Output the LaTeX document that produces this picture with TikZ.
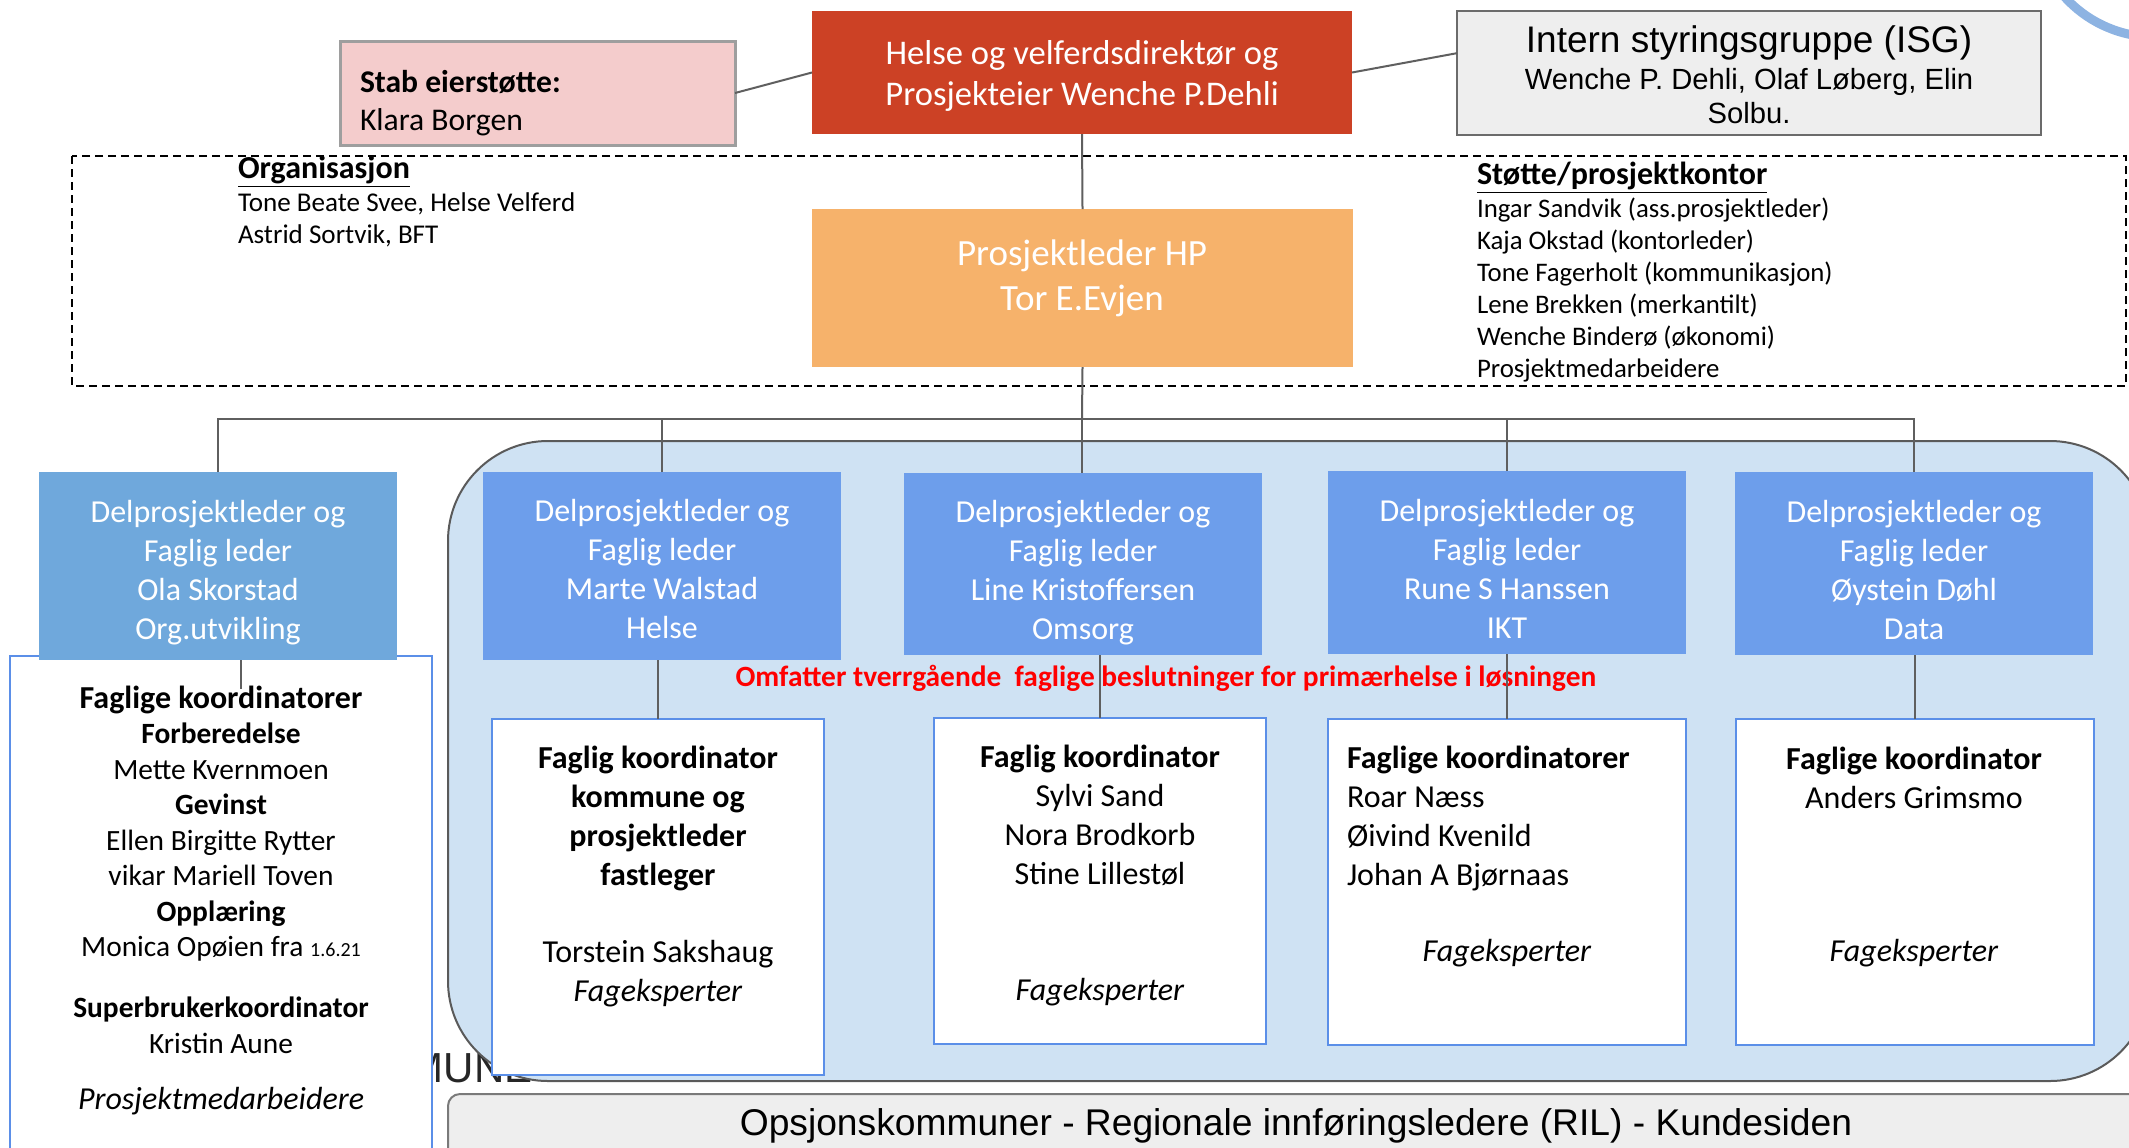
\documentclass[tikz,border=0pt]{standalone}
\usepackage{fontspec}
\setmainfont{Carlito}
\newfontfamily\arialf{Liberation Sans}
\usetikzlibrary{calc}
\definecolor{redbox}{HTML}{CC4125}
\definecolor{orangebox}{HTML}{F6B26B}
\definecolor{pinkbox}{HTML}{F4CCCC}
\definecolor{pinkborder}{HTML}{9E9E9E}
\definecolor{isgfill}{HTML}{EEEEEE}
\definecolor{isgborder}{HTML}{6B6B6B}
\definecolor{delpa}{HTML}{6FA8DC}
\definecolor{delpb}{HTML}{6D9EEB}
\definecolor{wborder}{HTML}{5B8FE8}
\definecolor{regionfill}{HTML}{CFE2F3}
\definecolor{regionborder}{HTML}{5A5A5A}
\definecolor{barfill}{HTML}{EEEEEE}
\definecolor{barborder}{HTML}{7A7A7A}
\definecolor{linegray}{HTML}{5F5F5F}
\definecolor{arccol}{HTML}{8DB3E2}
\definecolor{alertred}{HTML}{FF0000}
\newcommand\fs[2]{\fontsize{#1pt}{#2pt}\selectfont}
\begin{document}
\begin{tikzpicture}[x=0.5pt,y=-0.5pt,
  box/.style={anchor=north west, inner sep=0pt, outer sep=0pt},
  txt/.style={inner sep=0pt, outer sep=0pt, align=center},
  ltxt/.style={inner sep=0pt, outer sep=0pt, align=left, anchor=west},
  conn/.style={draw=linegray, line width=1pt},
  delp/.style={box, fill=delpb, minimum width=179pt},
  dtxt/.style={txt, text=white, font=\fs{16}{19.5}},
  wbox/.style={box, fill=white, draw=wborder, line width=1pt},
  ctxt/.style={txt, font=\fs{16}{19.35}}]
\useasboundingbox (0,0) rectangle (2129,1147);
\clip (0,0) rectangle (2129,1147);
\fill[white] (0,0) rectangle (2129,1147);

% top-right arc fragment
\draw[arccol, line width=4.5pt] (2155,-85) circle (122);

% dashed frame
\draw[dash pattern=on 4pt off 2.5pt, line width=1pt] (72,156) rectangle (2126,386);

% top boxes
\node[box, fill=redbox, minimum width=270pt, minimum height=61.5pt] (red) at (812,11) {};
\node[txt, text=white, font=\fs{17.3}{20.5}] (redtxt) at (1082,76) {Helse og velferdsdirektør og\\Prosjekteier Wenche P.Dehli};
\node[box, fill=pinkbox, draw=pinkborder, line width=1.5pt, minimum width=197.5pt, minimum height=52pt] (pink) at (340,41) {};
\node[ltxt, font=\fs{15.8}{19}] (pinktxt) at (360,103) {\textbf{Stab eierstøtte:}\\Klara Borgen};
\node[box, fill=isgfill, draw=isgborder, line width=1pt, minimum width=292pt, minimum height=62pt] (isg) at (1457,11) {};
\node[txt, font=\arialf\fs{18.5}{20}] (isgt) at (1749,43) {Intern styringsgruppe (ISG)};
\node[txt, font=\arialf\fs{14.6}{17}] (isgn) at (1749,96) {Wenche P. Dehli, Olaf Løberg, Elin\\Solbu.};
\node[box, fill=orangebox, minimum width=270.5pt, minimum height=79pt] (orange) at (812,209) {};
\node[txt, text=white, font=\fs{18.5}{22.5}] (orangetxt) at (1082,278) {Prosjektleder HP\\Tor E.Evjen};

% dashed-frame texts
\node[ltxt, font=\fs{16}{19}] (orgt) at (238,172) {\textbf{\underline{Organisasjon}}};
\node[ltxt, font=\fs{13.55}{16}] (orgl) at (238,220) {Tone Beate Svee, Helse Velferd\\Astrid Sortvik, BFT};
\node[ltxt, font=\fs{16}{19}] (stt) at (1477,178) {\textbf{\underline{Støtte/prosjektkontor}}};
\node[ltxt, font=\fs{13.4}{16}] (stl) at (1477,290) {Ingar Sandvik (ass.prosjektleder)\\Kaja Okstad (kontorleder)\\Tone Fagerholt (kommunikasjon)\\Lene Brekken (merkantilt)\\Wenche Binderø (økonomi)\\Prosjektmedarbeidere};

% fragment of text behind the region
\node[inner sep=0pt, anchor=base east, font=\arialf\fs{21}{24}, text=black!85] (kom) at (533,1082) {KOMMUNE};

% region
\draw[fill=regionfill, draw=regionborder, line width=1pt, rounded corners=50pt] (448,441) rectangle (2150,1081);
\node[box, fill=barfill, draw=barborder, line width=1pt, rounded corners=6pt, minimum width=870pt, minimum height=50pt] (bar) at (448,1094) {};
\node[txt, font=\arialf\fs{18.6}{22}] (bartxt) at (1296,1126) {Opsjonskommuner - Regionale innføringsledere (RIL) - Kundesiden};

% left column
\node[wbox, minimum width=211pt, minimum height=272pt] (k1) at (10,656) {};
\node[delp, fill=delpa, minimum height=94pt] (d1) at (39,472) {};
\node[dtxt] (d1txt) at (218,573) {Delprosjektleder og\\Faglig leder\\Ola Skorstad\\Org.utvikling};
\node[txt, font=\fs{14.7}{17.75}] (k1txt) at (221,900) {{\fs{16}{17.75}\textbf{Faglige koordinatorer}}\\
\textbf{Forberedelse}\\
Mette Kvernmoen\\
\textbf{Gevinst}\\
Ellen Birgitte Rytter\\
vikar Mariell Toven\\
\textbf{Opplæring}\\
Monica Opøien fra {\fs{10}{12}1.6.21}\\[12.75pt]
\textbf{Superbrukerkoordinator}\\
Kristin Aune\\[10.25pt]
{\fs{16}{17.75}\textit{Prosjektmedarbeidere}}};

% delprosjekt boxes
\node[delp, minimum height=94pt] (d2) at (483,472) {};
\node[dtxt] (d2txt) at (662,569) {Delprosjektleder og\\Faglig leder\\Marte Walstad\\Helse};
\node[delp, minimum height=91pt] (d3) at (904,473) {};
\node[dtxt] (d3txt) at (1083,573) {Delprosjektleder og\\Faglig leder\\Line Kristoffersen\\Omsorg};
\node[delp, minimum height=91.5pt] (d4) at (1328,471) {};
\node[dtxt] (d4txt) at (1507,569) {Delprosjektleder og\\Faglig leder\\Rune S Hanssen\\IKT};
\node[delp, minimum height=91.5pt] (d5) at (1735,472) {};
\node[dtxt] (d5txt) at (1914,570) {Delprosjektleder og\\Faglig leder\\Øystein Døhl\\Data};

\node[txt, text=alertred, font=\bfseries\fs{14.7}{16}] (note) at (1166,678) {Omfatter tverrgående\ \ faglige beslutninger for primærhelse i løsningen};

% coordinator boxes
\node[wbox, minimum width=166pt, minimum height=178pt] (k2) at (492,719) {};
\node[ctxt] (k2txt) at (658,876.5) {\textbf{Faglig koordinator}\\\textbf{kommune og}\\\textbf{prosjektleder}\\\textbf{fastleger}\\[19.35pt]Torstein Sakshaug\\\textit{Fageksperter}};
\node[wbox, minimum width=166pt, minimum height=163pt] (k3) at (934,718) {};
\node[ctxt] (k3txt) at (1100,875.5) {\textbf{Faglig koordinator}\\Sylvi Sand\\Nora Brodkorb\\Stine Lillestøl\\[38.7pt]\textit{Fageksperter}};
\node[wbox, minimum width=179pt, minimum height=163pt] (k4) at (1328,719) {};
\node[ltxt, font=\fs{16}{19.35}] (k4txt) at (1347,818.5) {\textbf{Faglige koordinatorer}\\Roar Næss\\Øivind Kvenild\\Johan A Bjørnaas};
\node[ctxt] (k4f) at (1507,953) {\textit{Fageksperter}};
\node[wbox, minimum width=179pt, minimum height=163pt] (k5) at (1736,719) {};
\node[ctxt] (k5txt) at (1914,778) {\textbf{Faglige koordinator}\\Anders Grimsmo};
\node[ctxt] (k5f) at (1914,953) {\textit{Fageksperter}};

% connectors
\coordinate (j) at (1082,419);
\coordinate (s1) at (241,689);
\draw[conn] (pink.east) -- (red.west);
\draw[conn] (red.east) -- ($(isg.north west)!0.34!(isg.south west)$);
\draw[conn] (red.south) -- (orange.north);
\draw[conn] (orange.south) -- (j);
\draw[conn] (d1.north) |- (j) -| (d5.north);
\draw[conn] (d2.north) |- (j);
\draw[conn] (j) -| (d4.north);
\draw[conn] (j) -- (d3.north -| j);
\draw[conn] (s1 |- d1.south) -- (s1);
\draw[conn] (k2.north |- d2.south) -- (k2.north);
\draw[conn] (k3.north |- d3.south) -- (k3.north);
\draw[conn] (d4.south) -- (k4.north);
\draw[conn] (k5.north |- d5.south) -- (k5.north);
\end{tikzpicture}
\end{document}
